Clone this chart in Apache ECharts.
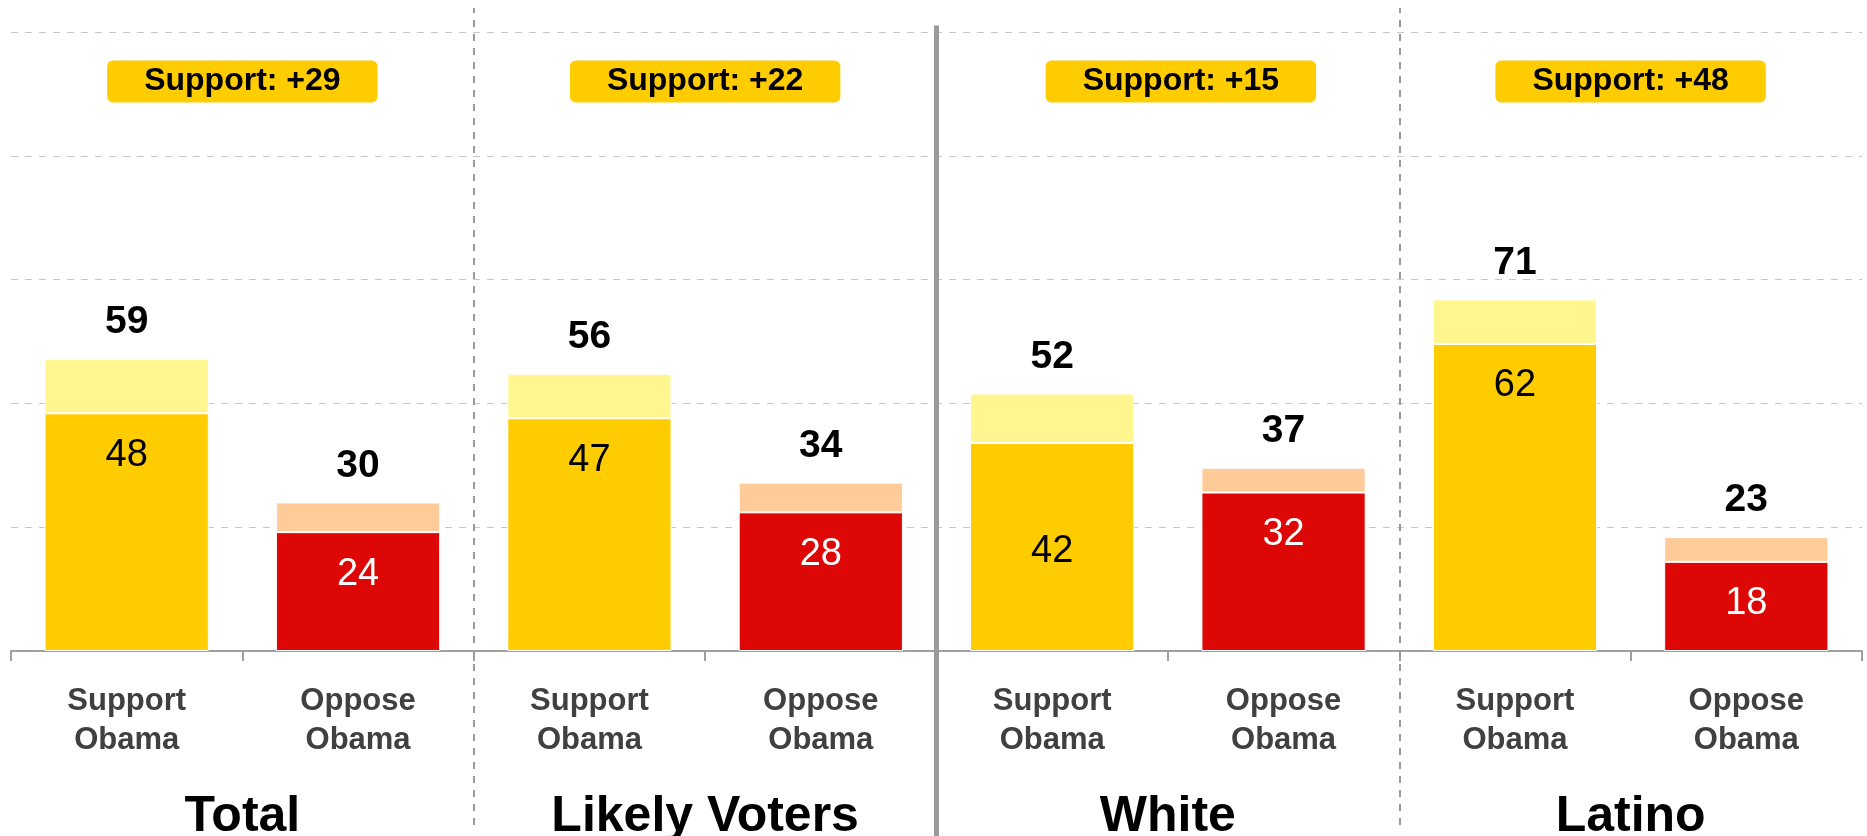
<!DOCTYPE html>
<html><head><meta charset="utf-8">
<script src="https://cdn.jsdelivr.net/npm/echarts@6/dist/echarts.min.js"></script>
<style>html,body{margin:0;padding:0;background:#fff}#c{width:1867px;height:836px}</style>
</head><body><div id="c"></div>
<script>
// ---- data ----
const groups = ['Total', 'Likely Voters', 'White', 'Latino'];
const categories = ['Support\nObama', 'Oppose\nObama', 'Support\nObama', 'Oppose\nObama',
                    'Support\nObama', 'Oppose\nObama', 'Support\nObama', 'Oppose\nObama'];
const netValues    = [59, 30, 56, 34, 52, 37, 71, 23];   // total bar height (bold label)
const strongValues = [48, 24, 47, 28, 42, 32, 62, 18];   // darker inner segment
const yMin = 0, yMax = 125, yInterval = 25;

// ---- derived ----
const softValues = netValues.map((v, i) => v - strongValues[i]);
const margins = groups.map((g, k) => netValues[2 * k] - netValues[2 * k + 1]);

const FONT = 'Arial, "Liberation Sans", Helvetica, sans-serif';
const C = { strongSup: '#FFCC00', softSup: '#FFF68F', strongOpp: '#DD0806', softOpp: '#FFCC99' };

// small per-label placement tweaks seen in the original
const innerLabelDistance = [23, 23, 23, 23, 89, 23, 23, 23];
const boxLabelOffset = [0, 0, 13, 0];

const chart = echarts.init(document.getElementById('c'), null, { renderer: 'canvas' });

const sepBoundaries = [2, 4, 6];
const sepLines = sepBoundaries.map((b, i) => {
  const solid = i === 1;
  return [
    { coord: [b, solid ? 0 : 0.0133] },
    { coord: [b, solid ? 0.979 : 1],
      lineStyle: solid ? { color: '#9a9a9a', width: 5, type: 'solid' }
                       : { color: '#9a9a9a', width: 2, type: [7, 7] } }
  ];
});

const option = {
  animation: false,
  backgroundColor: '#fff',
  textStyle: { fontFamily: FONT },
  grid: [
    { left: 11, right: 5, top: 32, bottom: 185, containLabel: false, outerBoundsMode: 'none' },
    { left: 11, right: 5, top: 8, bottom: 0, containLabel: false, outerBoundsMode: 'none' }
  ],
  xAxis: [
    {
      type: 'category', gridIndex: 0, data: categories, boundaryGap: true,
      axisLine: { show: true, lineStyle: { color: '#a0a0a0', width: 2 } },
      axisTick: { show: true, length: 10, lineStyle: { color: '#a0a0a0', width: 2 } },
      axisLabel: { margin: 31, fontSize: 31, fontWeight: 'bold', color: '#404040',
                   lineHeight: 39, fontFamily: FONT, interval: 0 }
    },
    {
      type: 'category', gridIndex: 0, data: groups, position: 'bottom',
      axisLine: { show: false }, axisTick: { show: false },
      axisLabel: { margin: 141, fontSize: 50, fontWeight: 'bold', color: '#000',
                   fontFamily: FONT, interval: 0 }
    },
    { type: 'value', gridIndex: 1, min: 0, max: 8, show: false }
  ],
  yAxis: [
    {
      type: 'value', gridIndex: 0, min: yMin, max: yMax, interval: yInterval,
      axisLine: { show: false }, axisTick: { show: false }, axisLabel: { show: false },
      splitLine: { show: true, lineStyle: { color: '#c8c8c8', width: 1, type: [7, 7] } }
    },
    { type: 'value', gridIndex: 1, min: 0, max: 1, show: false }
  ],
  series: [
    {
      name: 'strong', type: 'bar', stack: 'a', xAxisIndex: 0, yAxisIndex: 0,
      barWidth: '71%',
      data: strongValues.map((v, i) => ({
        value: v,
        itemStyle: { color: i % 2 ? C.strongOpp : C.strongSup },
        label: { color: i % 2 ? '#fff' : '#000', distance: innerLabelDistance[i] }
      })),
      itemStyle: { borderColor: '#fff', borderWidth: 1 },
      label: { show: true, position: 'insideTop', fontSize: 38,
               fontFamily: FONT, fontWeight: 'normal' }
    },
    {
      name: 'soft', type: 'bar', stack: 'a', xAxisIndex: 0, yAxisIndex: 0,
      barWidth: '71%',
      data: softValues.map((v, i) => ({
        value: v,
        itemStyle: { color: i % 2 ? C.softOpp : C.softSup }
      })),
      itemStyle: { borderColor: '#fff', borderWidth: 1 },
      label: { show: true, position: 'top', distance: 17, fontSize: 39, fontWeight: 'bold',
               color: '#000', fontFamily: FONT,
               formatter: p => String(netValues[p.dataIndex]) }
    },
    {
      name: 'margin', type: 'scatter', xAxisIndex: 1, yAxisIndex: 0,
      symbolSize: 0, silent: true, itemStyle: { opacity: 1 },
      data: groups.map((g, k) => ({ value: [g, 115], label: { offset: [boxLabelOffset[k], 0] } })),
      label: {
        show: true, position: 'inside', opacity: 1,
        formatter: p => 'Support: +' + margins[p.dataIndex],
        fontSize: 32, fontWeight: 'bold', color: '#000', fontFamily: FONT,
        backgroundColor: '#FFCC00', borderRadius: 6, padding: [5, 37], lineHeight: 32
      }
    },
    {
      name: 'separators', type: 'line', xAxisIndex: 2, yAxisIndex: 1,
      data: [], silent: true,
      markLine: { silent: true, symbol: ['none', 'none'], label: { show: false },
                  animation: false, data: sepLines }
    }
  ]
};
chart.setOption(option);
</script>
</body></html>
